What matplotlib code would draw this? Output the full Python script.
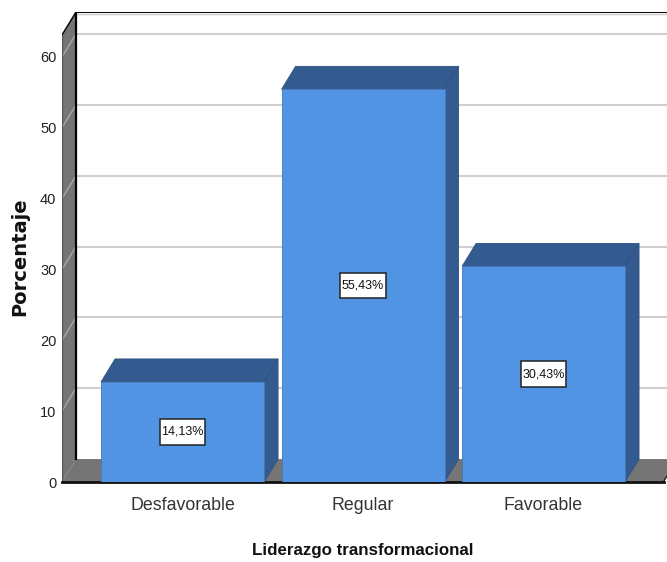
import matplotlib
matplotlib.use("Agg")
import matplotlib.pyplot as plt
from matplotlib.patches import Polygon, Rectangle

categories = ["Desfavorable", "Regular", "Favorable"]
percentages = [14.13, 55.43, 30.43]
y_ticks = [0, 10, 20, 30, 40, 50, 60]

# depth of the fake 3d box, in data units
DX = 0.0776
DY = 3.24
BAR_W = 0.903
X_MIN, X_MAX = -0.668, 2.684
Y_TOP = 63.1
LABEL_W, LABEL_H = 0.25, 3.6
SANS = ["Liberation Sans", "DejaVu Sans"]

WALL = "#757575"
FRONT = "#5294e4"
SIDE = "#345b8f"


def box_bar(ax, x, h):
    left, right = x - BAR_W / 2, x + BAR_W / 2
    ax.add_patch(Polygon([(left, h), (right, h), (right + DX, h + DY), (left + DX, h + DY)],
                         fc=SIDE, ec="#2f5180", lw=0.6, zorder=5))
    ax.add_patch(Polygon([(right, 0), (right + DX, DY), (right + DX, h + DY), (right, h)],
                         fc=SIDE, ec="#2f5180", lw=0.6, zorder=5))
    ax.add_patch(Polygon([(left, 0), (right, 0), (right, h), (left, h)],
                         fc=FRONT, ec="#4478b8", lw=0.6, zorder=6))


fig = plt.figure(figsize=(6.67, 5.62), dpi=100)
ax = fig.add_axes([62 / 667, 1 - 482 / 562, 605 / 667, 470 / 562])
ax.set_xlim(X_MIN, X_MAX)
ax.set_ylim(0, Y_TOP + DY)
for s in ax.spines.values():
    s.set_visible(False)

# left wall and floor
ax.add_patch(Polygon([(X_MIN, 0), (X_MIN + DX, DY), (X_MIN + DX, Y_TOP + DY), (X_MIN, Y_TOP)],
                     fc=WALL, ec="none", zorder=1))
floor_right = 2.665
ax.add_patch(Polygon([(X_MIN, 0), (X_MIN + DX, DY), (floor_right + DX, DY), (floor_right, 0)],
                     fc=WALL, ec="none", zorder=1))

# gridlines run across the back and down the wall
for t in y_ticks[1:]:
    ax.plot([X_MIN + DX, X_MAX], [t + DY, t + DY], color="#cfcfcf", lw=1.5, zorder=2)
    ax.plot([X_MIN, X_MIN + DX], [t, t + DY], color="#a8a8a8", lw=1.0, zorder=2)

# box outline
ax.plot([X_MIN + DX, X_MIN + DX], [DY, Y_TOP + DY], color="black", lw=1.6, zorder=3)
ax.plot([X_MIN + DX, X_MAX], [Y_TOP + DY - 0.06] * 2, color="black", lw=1.4, zorder=3)
ax.plot([X_MIN + DX, X_MAX], [Y_TOP + DY - 0.35] * 2, color="#cccccc", lw=1.0, zorder=2)
ax.plot([X_MIN, X_MIN + DX], [Y_TOP, Y_TOP + DY], color="black", lw=1.0, zorder=3)
ax.plot([X_MIN, X_MIN], [0, Y_TOP], color="#555555", lw=1.0, zorder=3)
ax.plot([X_MIN, floor_right], [0.05, 0.05], color="#111111", lw=2.0, zorder=3, clip_on=False)
ax.plot([floor_right, floor_right + DX], [0.05, DY], color="#222222", lw=1.0, zorder=3)

for i, v in enumerate(percentages):
    box_bar(ax, i, v)
    ax.add_patch(Rectangle((i - LABEL_W / 2, v / 2 - LABEL_H / 2), LABEL_W, LABEL_H,
                           fc="white", ec="#222222", lw=1.1, zorder=7))
    label = f"{v:.2f}%".replace(".", ",")
    ax.text(i, v / 2, label, ha="center", va="center", fontsize=9, family=SANS, color="#111111", zorder=8)

ax.set_xticks(range(len(categories)))
ax.set_xticklabels(categories, family=SANS, fontsize=12.8, color="#333333", va="baseline")
ax.set_yticks(y_ticks)
ax.set_yticklabels([str(t) for t in y_ticks], family=SANS, fontsize=10.5, color="#222222")
ax.tick_params(axis="both", length=0)
ax.tick_params(axis="x", pad=20.5)
ax.tick_params(axis="y", pad=4)

fig.text(363 / 667, 1 - 550 / 562, "Liderazgo transformacional", ha="center", va="center",
         family=SANS, fontweight="bold", fontsize=12.2, color="#111111")
fig.text(20 / 667, 1 - 257 / 562, "Porcentaje", rotation=90, ha="center", va="center",
         family=["DejaVu Sans"], fontweight="bold", fontsize=14, color="#111111")

fig.savefig("out.png", dpi=100)
